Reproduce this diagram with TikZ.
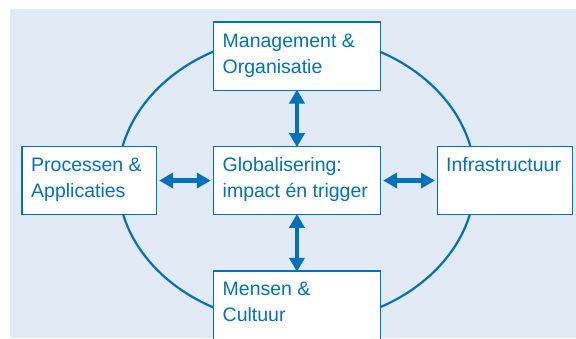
\documentclass[tikz,border=0pt]{standalone}
\usepackage{fontspec}
\setmainfont{Liberation Sans}
\usetikzlibrary{arrows.meta}
\definecolor{bgblue}{RGB}{226,234,246}
\definecolor{dblue}{RGB}{0,114,187}
\begin{document}
\begin{tikzpicture}[x=1pt,y=-1pt,
  box/.style={draw=dblue,line width=1.3pt,fill=white,rectangle,inner sep=0pt},
  txt/.style={anchor=base west,inner sep=0pt,text=dblue,font=\fontsize{19.5pt}{25.5pt}\selectfont,align=left},
  dbl/.style={draw=dblue,line width=4.6pt,{Triangle[length=14pt,width=15pt]}-{Triangle[length=14pt,width=15pt]}}]
\clip (0,0) rectangle (576,338);
\fill[bgblue] (10,9) rectangle (576,338);
\draw[dblue,line width=2.2pt] (296.5,179.5) ellipse [x radius=178.6pt,y radius=144.5pt];
% boxes
\node[box,minimum width=167pt,minimum height=68.4pt,anchor=north west] (mo) at (212.8,21.3) {};
\node[box,minimum width=167pt,minimum height=68.4pt,anchor=north west] (gl) at (212.8,145.7) {};
\node[box,minimum width=134.5pt,minimum height=68.4pt,anchor=north west] (pa) at (21.3,145.7) {};
\node[box,minimum width=134.5pt,minimum height=68.4pt,anchor=north west] (in) at (437,145.7) {};
\node[box,minimum width=167pt,minimum height=90pt,anchor=north west] (mc) at (212.8,270.3) {};
% texts (anchored at the baseline of the last line)
\node[txt] (tmo) at (222.5,73) {Management \&\\Organisatie};
\node[txt] (tgl) at (222.5,197.2) {Globalisering:\\impact én trigger};
\node[txt] (tpa) at (31,197.2) {Processen \&\\Applicaties};
\node[txt] (tin) at (446,171.7) {Infrastructuur};
\node[txt] (tmc) at (222.5,321.2) {Mensen \&\\Cultuur};
% arrows
\draw[dbl] ([yshift=1.5pt]mo.south) -- ([yshift=-1.5pt]gl.north);
\draw[dbl] ([yshift=1.5pt]gl.south) -- ([yshift=-1.5pt]mc.north);
\draw[dbl] ([xshift=2pt]pa.east) -- ([xshift=-2pt]gl.west);
\draw[dbl] ([xshift=2pt]gl.east) -- ([xshift=-2pt]in.west);
\end{tikzpicture}
\end{document}
